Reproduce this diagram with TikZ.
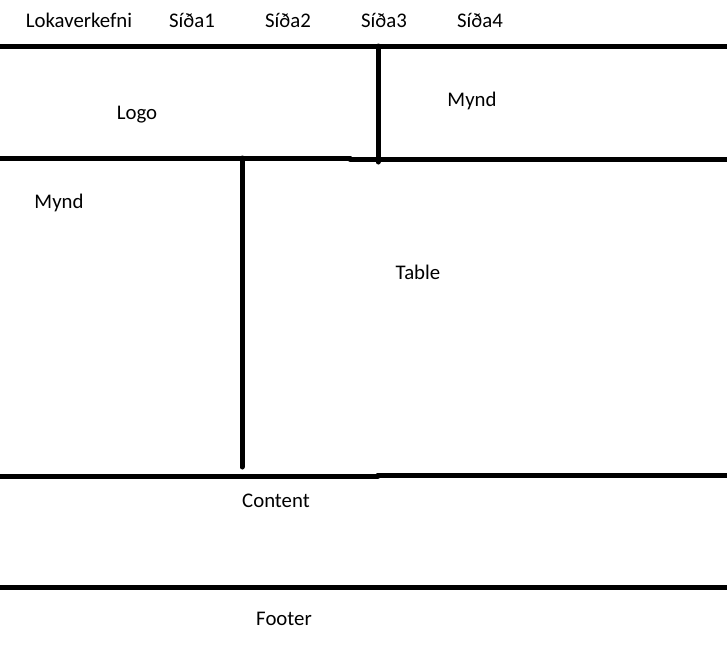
\documentclass[tikz,border=0pt]{standalone}
\usepackage{fontspec}
\setmainfont{Carlito}
\begin{document}
\begin{tikzpicture}[x=1pt, y=-1pt, line width=5pt, line join=round, line cap=round,
	lbl/.style={anchor=base, inner sep=0pt, font=\fontsize{20.8}{24}\selectfont}]
	\def\w{727} % Breidd
	\def\hh{656} % Haed
	\useasboundingbox (0,0) rectangle (\w,\hh);
	\coordinate (NL) at (0,46);
	\coordinate (NR) at (\w,46);
	\coordinate (V1) at (378,46);
	\coordinate (V1b) at (378,162);
	\coordinate (V2) at (242,158);
	\coordinate (V2b) at (242,467);
	% Linur
	\draw (NL)--(NR);
	\draw (V1)--(V1b);
	\draw (0,158)--(350,158);
	\draw (350,159)--(\w,159);
	\draw (V2)--(V2b);
	\draw (0,476)--(378,476);
	\draw (378,475)--(\w,475);
	\draw (0,587)--(\w,587);
	% Texti
	\node[lbl] (heiti) at (79,27) {Lokaverkefni};
	\foreach \i/\x in {1/192,2/288,3/384,4/480}
		\node[lbl] (sida\i) at (\x,27) {Síða\i};
	\node[lbl] (logo) at (137,119) {Logo};
	\node[lbl] (mynd1) at (472,106) {Mynd};
	\node[lbl] (mynd2) at (59,208) {Mynd};
	\node[lbl] (table) at (418,279) {Table};
	\node[lbl] (content) at (276,507) {Content};
	\node[lbl] (footer) at (284,625) {Footer};
\end{tikzpicture}
\end{document}
